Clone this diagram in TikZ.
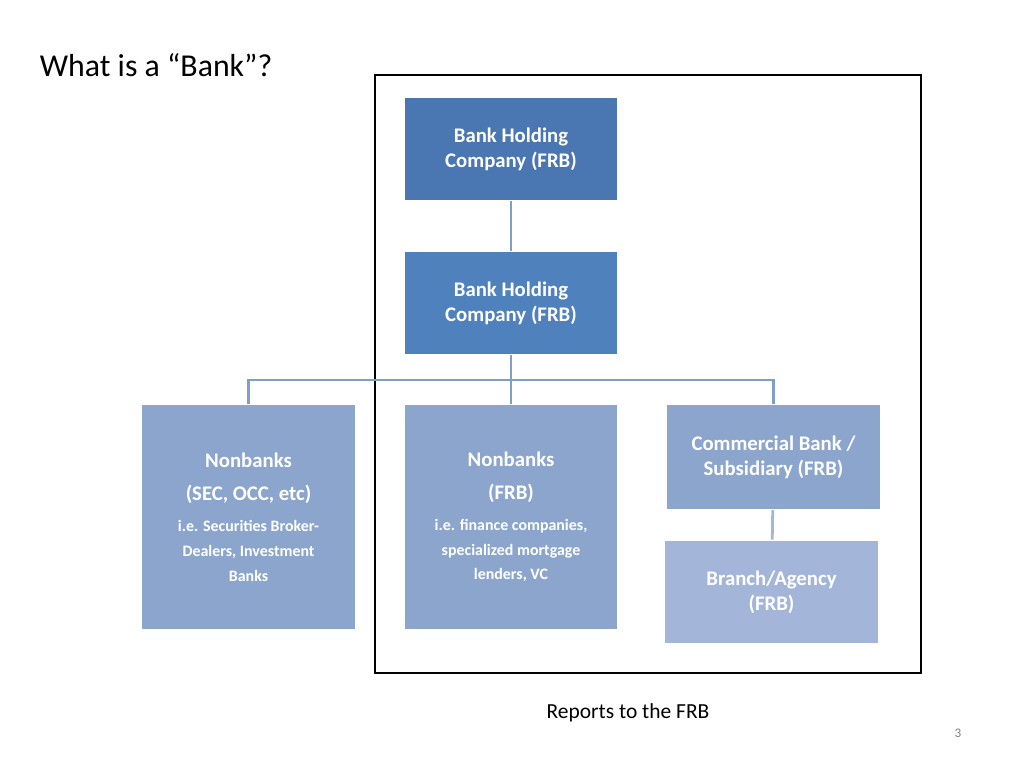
\documentclass[tikz,border=0pt]{standalone}
\usepackage{fontspec}
\setmainfont{Carlito}
\definecolor{boxdark}{HTML}{4A76B2}
\definecolor{boxmid}{HTML}{4F81BD}
\definecolor{boxlight}{HTML}{8BA5CD}
\definecolor{boxpale}{HTML}{A3B6DA}
\definecolor{linkblue}{HTML}{7F9FCB}
\newcommand{\smalltxt}{\fontsize{11.5}{14}\selectfont}
\tikzset{
  org/.style={draw=white, line width=0.8pt, text=white, font=\bfseries\fontsize{15}{18}\selectfont,
    align=center, minimum width=154pt, minimum height=75pt, inner sep=2pt},
  link/.style={draw=linkblue, line width=2pt},
}
\begin{document}
\begin{tikzpicture}[x=0.01in, y=-0.01in]
  \useasboundingbox (0,0) rectangle (1024,768);

  %% title and frame
  \node[anchor=west, font=\fontsize{23}{27}\selectfont] (title) at (35,65) {What is a “Bank”?};
  \draw[line width=2pt] (375,75) rectangle (921,673);

  %% boxes
  \node[org, fill=boxdark] (bhc) at (511,149) {Bank Holding\\Company (FRB)};
  \node[org, fill=boxmid] (hold) at (511,303) {Bank Holding\\Company (FRB)};
  \node[org, fill=boxlight, minimum height=163pt] (sec) at (248.5,517)
    {Nonbanks\\[6pt](SEC, OCC, etc)\\[4pt]\smalltxt i.e. Securities Broker-\\\smalltxt Dealers, Investment\\\smalltxt Banks};
  \node[org, fill=boxlight, minimum height=163pt] (frb) at (511,517)
    {Nonbanks\\[6pt](FRB)\\[4pt]\smalltxt i.e. finance companies,\\\smalltxt specialized mortgage\\\smalltxt lenders, VC};
  \node[org, fill=boxlight, minimum height=76pt] (bank) at (773.5,457) {Commercial Bank /\\Subsidiary (FRB)};
  \node[org, fill=boxpale] (branch) at (771.5,592) {Branch/Agency\\(FRB)};

  %% connectors
  \coordinate (bus) at (511,380);
  \draw[link] (bhc) -- (hold);
  \draw[link] (hold) -- (bus) -| (sec);
  \draw[link] (bus) -- (frb);
  \draw[link] (bus) -| (bank);
  \draw[link, draw=boxpale] (bank) -- (branch);

  %% footer
  \node[font=\fontsize{15.5}{18}\selectfont] (note) at (628,713) {Reports to the FRB};
  \node[text=gray, font=\fontsize{9.5}{11}\selectfont] (page) at (958,733) {3};
\end{tikzpicture}
\end{document}
